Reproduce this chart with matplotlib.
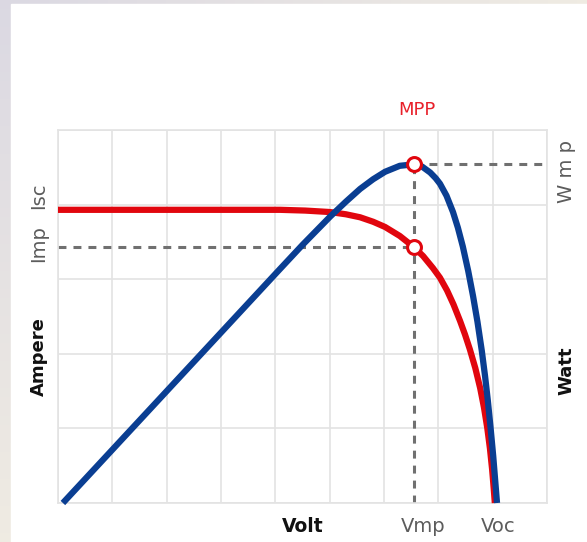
import numpy as np
import matplotlib
matplotlib.use("Agg")
import matplotlib.pyplot as plt
from matplotlib.patches import Rectangle

# I-V curve (red) in grid units (9 columns x 5 rows)
volt_i = [0, 4.09, 4.55, 5.01, 5.30, 5.56, 5.80, 6.02, 6.29, 6.55, 6.72, 6.90, 7.03, 7.16,
          7.28, 7.40, 7.49, 7.58, 7.68, 7.77, 7.84, 7.90, 7.95, 7.99, 8.02, 8.04]
current = [3.93, 3.93, 3.92, 3.90, 3.87, 3.83, 3.77, 3.70, 3.58, 3.43, 3.31, 3.15, 3.02, 2.85,
           2.66, 2.44, 2.26, 2.06, 1.81, 1.54, 1.28, 1.01, 0.73, 0.45, 0.19, 0.0]

# P-V curve (blue)
volt_p = [0.09, 4.09, 4.50, 5.01, 5.30, 5.56, 5.80, 6.02, 6.29, 6.55, 6.70, 6.85, 6.95, 7.03,
          7.15, 7.27, 7.36, 7.45, 7.55, 7.64, 7.72, 7.80, 7.86, 7.91, 7.96, 8.01, 8.05, 8.08]
power = [0.0, 3.14, 3.46, 3.84, 4.04, 4.21, 4.34, 4.44, 4.52, 4.54, 4.51, 4.43, 4.355, 4.28,
         4.12, 3.90, 3.69, 3.44, 3.11, 2.77, 2.43, 2.04, 1.70, 1.38, 1.02, 0.63, 0.27, 0.0]

# maximum power point
vmp = 6.55
imp = 3.43
wmp = 4.54

W, H = 587, 542
fig = plt.figure(figsize=(W / 100, H / 100), dpi=100)

# soft gradient background behind the white card
bg = fig.add_axes([0, 0, 1, 1], zorder=-2)
yy, xx = np.mgrid[0:1:60j, 0:1:60j]
c1 = np.array([0.86, 0.85, 0.89])
c2 = np.array([0.99, 0.97, 0.89])
t = np.clip(0.6 * yy + 0.6 * xx, 0, 1)[..., None]
bg.imshow(c1 * (1 - t) + c2 * t, aspect="auto", extent=[0, 1, 0, 1])
bg.add_patch(Rectangle((11 / W, 0), 1, 1 - 4 / H, color="white", transform=bg.transAxes))
bg.axis("off")

ax = fig.add_axes([58 / W, (H - 503) / H, 489 / W, 373 / H])
ax.set_xlim(0, 9)
ax.set_ylim(0, 5)
ax.set_xticks(range(10))
ax.set_yticks(range(6))
ax.tick_params(length=0, labelbottom=False, labelleft=False)
ax.grid(True, color="#e3e3e3", linewidth=1.2)
for s in ax.spines.values():
    s.set_color("#e3e3e3")
    s.set_linewidth(1.2)
ax.set_axisbelow(True)

# dashed guide lines
dash = dict(color="#707070", linewidth=2.2, dashes=(2.6, 2.3), zorder=2)
ax.plot([0, vmp], [imp, imp], **dash)
ax.plot([vmp, vmp], [0, wmp], **dash)
ax.plot([vmp, 9], [wmp, wmp], clip_on=False, **dash)

ax.plot(volt_i, current, color="#e1060e", linewidth=4.5, solid_capstyle="butt",
        solid_joinstyle="round", clip_on=False, zorder=3)
ax.plot(volt_p, power, color="#0a3e92", linewidth=4.5, solid_capstyle="butt",
        solid_joinstyle="round", clip_on=False, zorder=4)

ax.plot([vmp, vmp], [wmp, imp], linestyle="none", marker="o", markersize=10,
        markerfacecolor="white", markeredgecolor="#e1060e", markeredgewidth=2.2, zorder=5)

def label(x, y, s, **kw):
    fig.text(x / W, 1 - y / H, s, ha="center", va="center", **kw)

gray = "#5c5c5c"
label(417, 110, "MPP", color="#e8202a", fontsize=13)
label(39, 196, "Isc", color=gray, fontsize=14, rotation=90)
label(39, 244, "Imp", color=gray, fontsize=14, rotation=90)
label(39, 357, "Ampere", color="#111111", fontsize=13, fontweight="bold", rotation=90)
label(566, 172, "W m p", color=gray, fontsize=14, rotation=90)
label(566, 371, "Watt", color="#111111", fontsize=13, fontweight="bold", rotation=90)
label(303, 527, "Volt", color="#111111", fontsize=13.5, fontweight="bold")
label(423, 527, "Vmp", color=gray, fontsize=14)
label(498, 527, "Voc", color=gray, fontsize=14)

fig.savefig("out.png", dpi=100)
